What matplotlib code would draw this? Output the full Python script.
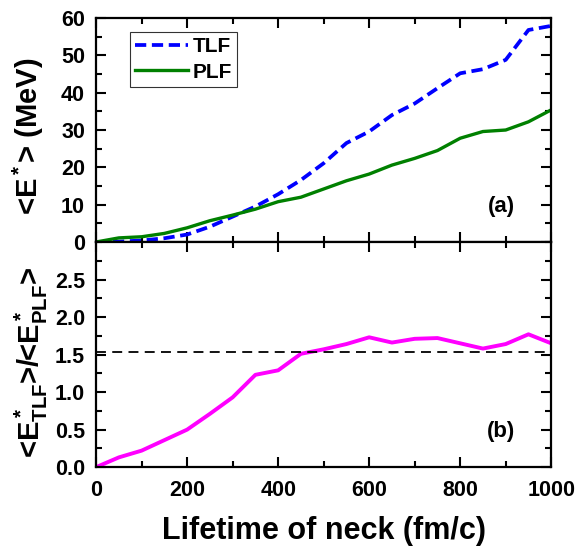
import matplotlib
matplotlib.use('Agg')
import matplotlib.pyplot as plt
from matplotlib.ticker import MultipleLocator

plt.rcParams['font.family'] = ['Liberation Sans', 'DejaVu Sans']
plt.rcParams['font.weight'] = 'bold'
plt.rcParams['mathtext.fontset'] = 'custom'
plt.rcParams['mathtext.rm'] = 'Liberation Sans:bold'
plt.rcParams['mathtext.it'] = 'Liberation Sans:bold'
plt.rcParams['mathtext.bf'] = 'Liberation Sans:bold'

# lifetime of neck (fm/c)
t = [0, 50, 100, 150, 200, 250, 300, 350, 400, 450, 500,
     550, 600, 650, 700, 750, 800, 850, 900, 950, 1000]
e_tlf = [0.0, 0.1, 0.4, 1.0, 2.0, 4.1, 6.8, 9.5, 12.8, 16.6, 21.1,
         26.5, 29.6, 34.0, 37.1, 41.2, 45.2, 46.3, 48.8, 56.8, 57.9]
e_plf = [0.0, 1.1, 1.4, 2.3, 3.8, 5.7, 7.2, 8.8, 10.8, 12.0, 14.2,
         16.4, 18.2, 20.6, 22.4, 24.5, 27.8, 29.6, 30.0, 32.2, 35.4]
ratio = [0.0, 0.13, 0.22, 0.36, 0.50, 0.71, 0.93, 1.23, 1.29, 1.51, 1.57,
         1.64, 1.73, 1.66, 1.71, 1.72, 1.65, 1.58, 1.64, 1.77, 1.65]
ratio_ref = 1.54

fig = plt.figure(figsize=(5.79, 5.47), dpi=100)
ax1 = fig.add_axes([0.166, 0.5576, 0.786, 0.4094])
ax2 = fig.add_axes([0.166, 0.146, 0.786, 0.4116], sharex=ax1)

ax1.plot(t, e_tlf, color='#0000ff', lw=2.7, ls=(0, (3.0, 1.5)), label='TLF')
ax1.plot(t, e_plf, color='#008000', lw=2.4, label='PLF')
ax1.set_ylim(0, 60)
ax1.yaxis.set_major_locator(MultipleLocator(10))
ax1.yaxis.set_minor_locator(MultipleLocator(5))
ax1.set_ylabel('<E$^*$> (MeV)', fontsize=21, fontweight='bold')
ax1.yaxis.set_label_coords(-0.11, 0.473)
ax1.text(0.89, 0.16, '(a)', transform=ax1.transAxes, fontsize=16,
         fontweight='bold', ha='center', va='center')
leg = ax1.legend(loc='upper left', bbox_to_anchor=(0.075, 0.9375), fontsize=15,
                 frameon=True, fancybox=False, edgecolor='black',
                 handlelength=2.5, borderpad=0.25, labelspacing=0.3,
                 handletextpad=0.25, borderaxespad=0)
leg.get_frame().set_linewidth(0.8)
plt.setp(ax1.get_xticklabels(), visible=False)

ax2.plot(t, ratio, color='#ff00ff', lw=2.8)
ax2.axhline(ratio_ref, color='black', lw=1.3, ls=(0, (5.5, 3.5)))
ax2.set_ylim(0, 3.0)
ax2.set_yticks([0.0, 0.5, 1.0, 1.5, 2.0, 2.5])
ax2.yaxis.set_minor_locator(MultipleLocator(0.25))
ax2.set_ylabel('<E$^*_{TLF}$>/<E$^*_{PLF}$>', fontsize=21, fontweight='bold')
ax2.yaxis.set_label_coords(-0.101, 0.464)
ax2.set_xlabel('Lifetime of neck (fm/c)', fontsize=22, fontweight='bold')
ax2.xaxis.set_label_coords(0.5, -0.218)
ax2.text(0.89, 0.16, '(b)', transform=ax2.transAxes, fontsize=16,
         fontweight='bold', ha='center', va='center')

ax2.set_xlim(0, 1000)
ax2.xaxis.set_major_locator(MultipleLocator(200))
ax2.xaxis.set_minor_locator(MultipleLocator(100))

for ax in (ax1, ax2):
    for s in ax.spines.values():
        s.set_linewidth(1.6)
    ax.tick_params(which='both', direction='in', top=True, right=True,
                   width=1.5, labelsize=15.5)
    ax.tick_params(which='major', length=7)
    ax.tick_params(which='minor', length=4)
    ax.tick_params(axis='x', pad=9)
    ax.tick_params(axis='y', pad=8)
    for lab in ax.get_xticklabels() + ax.get_yticklabels():
        lab.set_fontweight('bold')

fig.savefig('out.png', dpi=100)
